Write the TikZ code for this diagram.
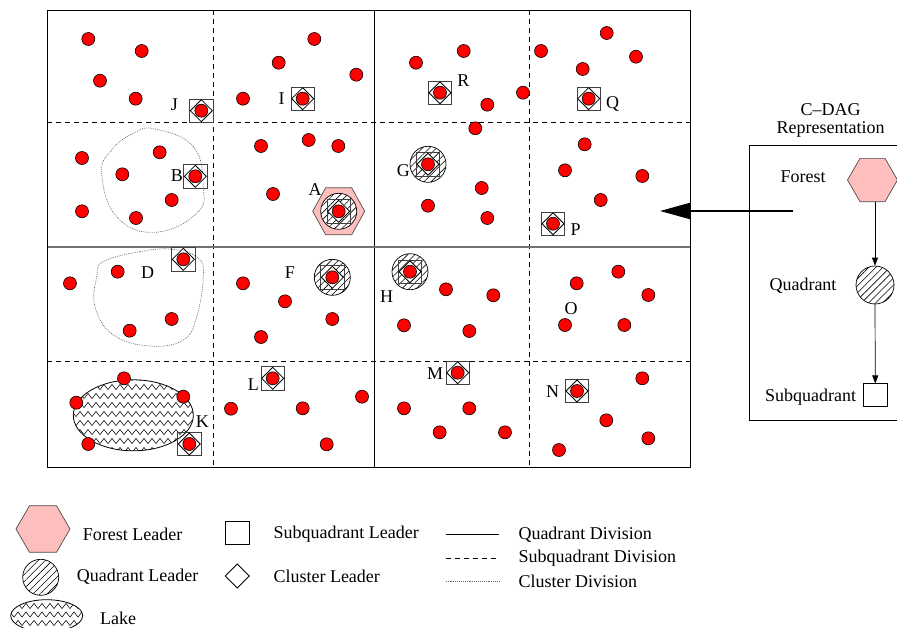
\documentclass[tikz,border=0pt]{standalone}
\usepackage{fontspec}
\setmainfont{Liberation Serif}
\usetikzlibrary{shapes.geometric,patterns.meta,decorations.pathmorphing,arrows.meta}
\definecolor{forestpink}{RGB}{255,190,190}
\definecolor{dotred}{RGB}{255,0,0}

\tikzset{
  lbl/.style={font=\fontsize{18}{20}\selectfont, inner sep=0pt},
  legendlbl/.style={lbl, anchor=west},
  quadline/.style={line width=1pt},
  subline/.style={line width=0.9pt, dash pattern=on 5pt off 4pt},
  clusterline/.style={line width=0.7pt, black!60, dash pattern=on 0.8pt off 1.1pt},
  hatch/.style={pattern={Lines[angle=45,distance=5pt,line width=0.6pt]}},
  zigzagrow/.style={line width=0.55pt, decorate,
    decoration={zigzag, segment length=8pt, amplitude=2.6pt}},
  reddot/.pic={
    \filldraw[fill=dotred, draw=black, line width=0.6pt] (0,0) circle (6.5pt);
  },
  sqlead/.pic={
    \draw[line width=0.8pt, black!75] (-11.7,-11.7) rectangle (11.7,11.7);
    \filldraw[fill=white, draw=black, line width=0.8pt]
      (-11,0) -- (0,-11) -- (11,0) -- (0,11) -- cycle;
    \filldraw[fill=dotred, draw=black, line width=0.6pt] (0,0) circle (6.5pt);
  },
  qlead/.pic={
    \fill[white] (0,0) circle (18pt);
    \path[hatch] (0,0) circle (18pt);
    \draw[line width=0.7pt] (0,0) circle (18pt);
    \draw[line width=0.8pt, black!75] (-11.7,-11.7) rectangle (11.7,11.7);
    \filldraw[fill=white, draw=black, line width=0.8pt]
      (-11,0) -- (0,-11) -- (11,0) -- (0,11) -- cycle;
    \filldraw[fill=dotred, draw=black, line width=0.6pt] (0,0) circle (6.5pt);
  },
  flead/.pic={
    \filldraw[fill=forestpink, draw=black!70, line width=0.7pt]
      (-26,0) -- (-13,-23.5) -- (13,-23.5) -- (26,0) -- (13,23.5) -- (-13,23.5) -- cycle;
    \fill[white] (0,0) circle (18pt);
    \path[hatch] (0,0) circle (18pt);
    \draw[line width=0.7pt] (0,0) circle (18pt);
    \draw[line width=0.8pt, black!75] (-11.7,-11.7) rectangle (11.7,11.7);
    \filldraw[fill=white, draw=black, line width=0.8pt]
      (-11,0) -- (0,-11) -- (11,0) -- (0,11) -- cycle;
    \filldraw[fill=dotred, draw=black, line width=0.6pt] (0,0) circle (6.5pt);
  },
  forestnode/.style={regular polygon, regular polygon sides=6, minimum size=50pt,
    inner sep=0pt, fill=forestpink, draw=black!70, line width=0.7pt},
  quadnode/.style={circle, minimum size=38pt, inner sep=0pt, draw, line width=0.7pt, hatch},
  subnode/.style={rectangle, minimum width=24pt, minimum height=23pt, inner sep=0pt,
    draw, line width=0.7pt, fill=white},
  dagarrow/.style={line width=0.7pt, -{Triangle[length=8pt,width=6pt]}},
  bigarrow/.style={line width=2pt, -{Triangle[length=30pt,width=16pt]}}
}

\begin{document}
\begin{tikzpicture}[x=1pt, y=-1pt]
\useasboundingbox (0,0) rectangle (897,627);

% ---- map of the forest ----
\draw[subline] (213,10) -- (213,467);
\draw[subline] (529,10) -- (529,467);
\draw[subline] (47,122) -- (690,122);
\draw[subline] (47,361) -- (690,361);
\draw[quadline] (374,10) -- (374,467);
\draw[line width=1.4pt, black!55] (47,247) -- (690,247);
\draw[quadline] (47,10) rectangle (690,467);

% cluster boundaries
\draw[clusterline] plot[smooth cycle, tension=0.75] coordinates {
  (155,129) (193.3,146.7) (203.3,186.7) (196.7,213.3) (155,232.3)
  (116.7,216.7) (101.7,173.3) (111.7,150) (133.3,133.3)};
\draw[clusterline] plot[smooth cycle, tension=0.7] coordinates {
  (103.3,261.7) (140,251.7) (173.3,249.3) (198.3,258.3) (203.3,276.7)
  (196.7,316.7) (183.3,340) (150,346) (113.3,335) (95,306.7) (96.7,276.7)};

% lake
\begin{scope}
  \clip (133.3,415.3) ellipse [x radius=60pt, y radius=35.5pt];
  \foreach \yy in {378,387,...,452}
    \draw[zigzagrow] (70,\yy) -- (200,\yy);
\end{scope}
\draw[line width=0.8pt] (133.3,415.3) ellipse [x radius=60pt, y radius=35.5pt];

% ordinary sensors
\foreach \xx/\yy in {
  88.3/39, 141.7/51, 100/80.7, 135.7/98.7,
  314.3/39, 278.7/62.7, 356.3/74.7, 243/98.7,
  82/158, 159.7/152.3, 122.3/174.3, 171.7/200, 82/211.3, 136/218,
  261/146, 308.7/140, 338.3/146, 273/194,
  416/62.7, 463.7/51, 487.3/104.7, 523/92.7,
  541/51, 606.7/33, 636/56.7, 582.7/69,
  475.3/128.3, 481.7/188, 428/205.7, 487.3/218,
  584.7/144.3, 565/170.3, 642.3/176, 600.7/200,
  70/283.3, 117.7/271.7, 171.7/319, 129.7/330.7,
  243/283.3, 285/301.3, 332.3/319, 261/337,
  124/378.3, 76.3/402.7, 183.3/396.7, 88.3/444,
  231/408.7, 302.7/408.3, 362/396.7, 326.7/444.3,
  446/289.3, 493.3/295.3, 404/325.3, 469.3/331,
  576.7/283.3, 618.3/271.7, 648.3/295, 565/325, 624.3/325,
  404/408.3, 469.3/408.3, 439.7/432.3, 505/432.3,
  642.3/378.3, 606.3/420.3, 648.3/438.3, 559/450}
  \pic at (\xx,\yy) {reddot};

% subquadrant leaders
\foreach \xx/\yy in {201.3/110.7, 302.7/98.7, 195.3/176.3, 440/92.7, 588.7/98.7,
  553/223.7, 183.3/259.3, 189.3/444, 272.7/378.3, 457.7/372.7, 577/391}
  \pic at (\xx,\yy) {sqlead};
% quadrant leaders
\foreach \xx/\yy in {428/164.3, 332.3/277.3, 410/271.7}
  \pic at (\xx,\yy) {qlead};
% forest leader
\pic at (338.7,211.3) {flead};

% leader names
\node[lbl] (nJ) at (174.3,105) {J};
\node[lbl] (nI) at (281.7,98.7) {I};
\node[lbl] (nB) at (177,175.7) {B};
\node[lbl] (nA) at (315,189.3) {A};
\node[lbl] (nR) at (463.3,81) {R};
\node[lbl] (nQ) at (612.7,104) {Q};
\node[lbl] (nG) at (403.3,170.3) {G};
\node[lbl] (nP) at (575.7,229.3) {P};
\node[lbl] (nD) at (147.7,272.3) {D};
\node[lbl] (nF) at (290,272.3) {F};
\node[lbl] (nK) at (202.3,421.7) {K};
\node[lbl] (nL) at (253.3,385) {L};
\node[lbl] (nH) at (386.7,296.7) {H};
\node[lbl] (nO) at (571,308.3) {O};
\node[lbl] (nM) at (435,373.3) {M};
\node[lbl] (nN) at (552.7,391.7) {N};

% ---- C-DAG representation ----
\node[lbl, font=\fontsize{18}{17.5}\selectfont, align=center] (cdag) at (830.5,120.5)
  {C–DAG\\Representation};
\draw[line width=0.8pt] (897,145.7) -- (749,145.7) -- (749,420) -- (897,420);

\node[forestnode] (forest) at (872.5,180) {};
\node[quadnode] (quad) at (875,285) {};
\node[subnode] (subq) at (875.3,395.3) {};
\draw[dagarrow] (forest.south -| quad.north) -- (quad.north);
\draw[dagarrow] (quad.south) -- (subq.north);

\node[lbl] (forestlbl) at (803,177) {Forest};
\node[lbl] (quadlbl) at (803,286) {Quadrant};
\node[lbl] (subqlbl) at (810.5,397) {Subquadrant};

\coordinate (arrowstart) at (793,211);
\coordinate (arrowtip) at (660,211);
\draw[bigarrow] (arrowstart) -- (arrowtip);

% ---- legend ----
\filldraw[fill=forestpink, draw=black!70, line width=0.7pt]
  (16,529) -- (29.5,505.7) -- (56.5,505.7) -- (70,529) -- (56.5,552.3) -- (29.5,552.3) -- cycle;
\node[legendlbl] (lgforest) at (82.7,534) {Forest Leader};

\path[hatch] (40.7,577.3) circle (18pt);
\draw[line width=0.7pt] (40.7,577.3) circle (18pt);
\node[legendlbl] (lgquad) at (76.7,577) {Quadrant Leader};

\begin{scope}
  \clip (46.7,615.7) ellipse [x radius=36pt, y radius=16pt];
  \foreach \yy in {606,614.5,623,631.5}
    \draw[zigzagrow] (8,\yy) -- (86,\yy);
\end{scope}
\draw[line width=0.8pt] (46.7,615.7) ellipse [x radius=36pt, y radius=16pt];
\node[legendlbl] (lglake) at (100,618) {Lake};

\draw[line width=0.8pt] (225.2,521.8) rectangle (249.2,544.8);
\node[legendlbl] (lgsub) at (273.3,534) {Subquadrant Leader};

\draw[line width=0.8pt] (225.3,576) -- (237.3,564) -- (249.3,576) -- (237.3,588) -- cycle;
\node[legendlbl] (lgcluster) at (273.3,576) {Cluster Leader};

\draw[line width=0.8pt] (445.7,534.3) -- (499.3,534.3);
\node[legendlbl] (lgqdiv) at (518.3,534.3) {Quadrant Division};
\draw[line width=0.8pt, dash pattern=on 5pt off 4pt] (445.7,558.3) -- (499.3,558.3);
\node[legendlbl] (lgsdiv) at (518.3,558.3) {Subquadrant Division};
\draw[clusterline] (445.7,581.7) -- (499.3,581.7);
\node[legendlbl] (lgcdiv) at (518.3,581.7) {Cluster Division};
\end{tikzpicture}
\end{document}
